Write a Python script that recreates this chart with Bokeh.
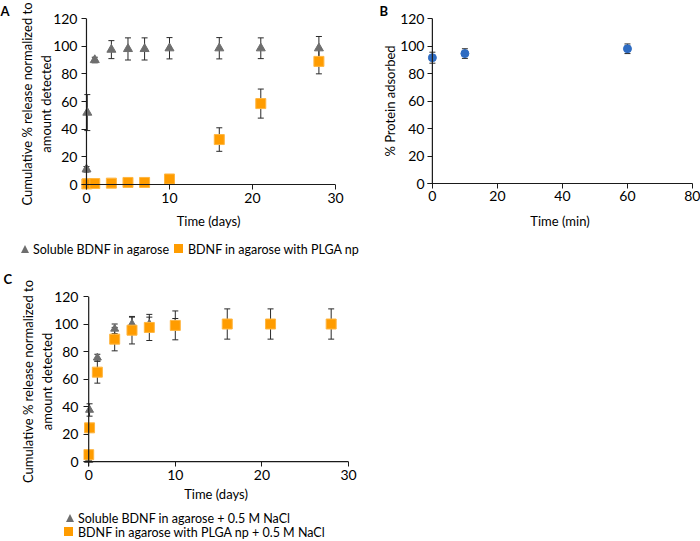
from bokeh.plotting import figure
from bokeh.models import (Whisker, TeeHead, ColumnDataSource, Range1d, FixedTicker, Span, Div)
from bokeh.layouts import column, row
from bokeh.embed import file_html
from bokeh.resources import INLINE

FONT = "Lato"
GREY = "#6e6e6e"
ORANGE = "#ff9c00"
BLUE = "#2f6cc2"
ERR = "#2a2a2a"
AX = "#1a1a1a"

# ---------------- data ----------------
# Panel A
a_days = [0, 0.1, 1, 3, 5, 7, 10, 16, 21, 28]
a_sol = [11, 52, 90, 97.5, 98, 98, 98.5, 98.5, 98.5, 98.5]
a_sol_err = [2, 13, 2, 6.5, 8, 8, 7.7, 7.7, 7.5, 8.5]
a_plga = [0.3, 0.5, 0.7, 1, 1.5, 1.5, 4, 32.5, 58.5, 89]
a_plga_err = [0.5, 0.5, 0.5, 0.5, 1, 1, 1.5, 8.5, 10.5, 9]

# Panel B
b_min = [0, 10, 60]
b_ads = [91.5, 94.5, 98]
b_ads_err = [4, 3.5, 3.5]

# Panel C
c_days = [0, 0.1, 1, 3, 5, 7, 10, 16, 21, 28]
c_sol = [1, 37.5, 75.5, 96.5, 100, 100, 100, 100, 100, 100]
c_sol_err = [1, 4.5, 2.5, 3.5, 5, 5, 4, 3, 3, 3]
c_plga = [5, 24.5, 65, 89, 95.5, 97.5, 99, 100, 100, 100]
c_plga_err = [1, 3, 8, 8.5, 10, 9.5, 10.5, 11, 11, 11]

y_ticks = [0, 20, 40, 60, 80, 100, 120]
day_ticks = [0, 10, 20, 30]
min_ticks = [0, 20, 40, 60, 80]

legend_a = ["Soluble BDNF in agarose", "BDNF in agarose with PLGA np"]
legend_c = ["Soluble BDNF in agarose + 0.5 M NaCl", "BDNF in agarose with PLGA np + 0.5 M NaCl"]


def style(p):
    p.outline_line_color = None
    p.xgrid.visible = False
    p.ygrid.visible = False
    p.background_fill_color = "white"
    p.border_fill_color = "white"
    for ax in p.axis:
        ax.axis_line_color = AX
        ax.axis_line_width = 1.2
        ax.major_tick_line_color = AX
        ax.major_tick_line_width = 1
        ax.major_tick_in = 0
        ax.major_tick_out = 5
        ax.minor_tick_line_color = None
        ax.major_label_text_font = FONT
        ax.major_label_text_font_size = "14px"
        ax.major_label_text_color = "black"
        ax.axis_label_text_font = FONT
        ax.axis_label_text_font_size = "13px"
        ax.axis_label_text_font_style = "normal"
        ax.axis_label_text_color = "black"


def letter(p, text, offset, standoff):
    p.title.text = text
    p.title.align = "left"
    p.title.offset = offset
    p.title.standoff = standoff
    p.title.text_font = FONT
    p.title.text_font_style = "bold"
    p.title.text_font_size = "13px"
    p.title.text_color = "black"


def inner_axis(ax):
    # axis drawn at the frame edge, 5 px outside the zero line: ticks point inward
    ax.axis_line_color = None
    ax.major_tick_in = 5
    ax.major_tick_out = 0


def zero_line(p, dim):
    p.add_layout(Span(location=0, dimension=dim, line_color=AX, line_width=1.2))


def whisk(p, xs, ys, errs):
    src = ColumnDataSource(dict(
        x=xs,
        lower=[y - e for y, e in zip(ys, errs)],
        upper=[y + e for y, e in zip(ys, errs)],
    ))
    w = Whisker(source=src, base="x", lower="lower", upper="upper",
                line_color=ERR, line_width=1,
                upper_head=TeeHead(size=6, line_color=ERR, line_width=1),
                lower_head=TeeHead(size=6, line_color=ERR, line_width=1))
    p.add_layout(w)


def tri_svg(left, top, color):
    return (f'<svg style="position:absolute;left:{left}px;top:{top}px" width="8" height="8">'
            f'<polygon points="4,0 8,8 0,8" fill="{color}"/></svg>')


def sq_html(left, top, color):
    return (f'<span style="position:absolute;left:{left}px;top:{top}px;width:9px;height:9px;'
            f'background:{color}"></span>')


def txt_html(left, center, label):
    return (f'<span style="position:absolute;left:{left}px;top:{center - 5.5}px;line-height:11px;'
            f'white-space:nowrap;font-family:{FONT};font-size:12.5px;color:black">{label}</span>')


def legend_div(width, height, parts):
    html = (f'<div style="position:relative;width:{width}px;height:{height}px;overflow:visible">'
            + "".join(parts) + "</div>")
    return Div(text=html, width=width, height=height, margin=0)


# ---------------- Panel A ----------------
pA = figure(width=360, height=240, x_range=Range1d(-0.6, 30), y_range=Range1d(-3.6, 120),
            output_backend="svg", toolbar_location=None,
            min_border_left=81, min_border_right=25, min_border_top=17, min_border_bottom=51)
style(pA)
pA.xaxis.ticker = FixedTicker(ticks=day_ticks)
pA.yaxis.ticker = FixedTicker(ticks=y_ticks)
inner_axis(pA.xaxis[0])
inner_axis(pA.yaxis[0])
pA.yaxis.major_label_standoff = 4
pA.xaxis.major_label_standoff = 3
pA.yaxis.axis_label_standoff = -4
pA.xaxis.axis_label_standoff = 7
pA.xaxis.axis_label = "Time (days)"
pA.yaxis.axis_label = "Cumulative % release normalized to\namount detected"
zero_line(pA, "height")
zero_line(pA, "width")
whisk(pA, a_days, a_sol, a_sol_err)
whisk(pA, a_days, a_plga, a_plga_err)
pA.scatter(a_days, a_sol, marker="triangle", size=9, fill_color=GREY, line_color=GREY)
pA.scatter(a_days, a_plga, marker="square", size=10, fill_color=ORANGE, line_color="#ffb640")
letter(pA, "A", -81, 0)

legA = legend_div(360, 18, [tri_svg(21, 5, GREY), txt_html(33, 9, legend_a[0]),
                            sq_html(174, 4, ORANGE), txt_html(188, 9, legend_a[1])])

# ---------------- Panel B ----------------
pB = figure(width=340, height=258, x_range=Range1d(-1.5, 80), y_range=Range1d(0, 120),
            output_backend="svg", toolbar_location=None,
            min_border_left=67, min_border_right=8, min_border_top=16, min_border_bottom=75)
style(pB)
pB.xaxis.ticker = FixedTicker(ticks=min_ticks)
pB.yaxis.ticker = FixedTicker(ticks=y_ticks)
inner_axis(pB.yaxis[0])
pB.yaxis.major_label_standoff = 3
pB.xaxis.major_label_standoff = 2
pB.yaxis.axis_label_standoff = -1
pB.xaxis.axis_label_standoff = 9
pB.xaxis.axis_label = "Time (min)"
pB.yaxis.axis_label = "% Protein adsorbed"
zero_line(pB, "height")
whisk(pB, b_min, b_ads, b_ads_err)
pB.scatter(b_min, b_ads, marker="circle", size=8, fill_color=BLUE, line_color=BLUE)
letter(pB, "B", -48, 0)

# ---------------- Panel C ----------------
pC = figure(width=360, height=250, x_range=Range1d(-0.6, 30), y_range=Range1d(-3.6, 120),
            output_backend="svg", toolbar_location=None,
            min_border_left=83, min_border_right=12, min_border_top=38, min_border_bottom=42)
style(pC)
pC.xaxis.ticker = FixedTicker(ticks=day_ticks)
pC.yaxis.ticker = FixedTicker(ticks=y_ticks)
inner_axis(pC.xaxis[0])
inner_axis(pC.yaxis[0])
pC.yaxis.major_label_standoff = 5
pC.xaxis.major_label_standoff = 3
pC.yaxis.axis_label_standoff = -4
pC.xaxis.axis_label_standoff = 3
pC.xaxis.axis_label = "Time (days)"
pC.yaxis.axis_label = "Cumulative % release normalized to\namount detected"
zero_line(pC, "height")
zero_line(pC, "width")
whisk(pC, c_days, c_sol, c_sol_err)
whisk(pC, c_days, c_plga, c_plga_err)
pC.scatter(c_days, c_sol, marker="triangle", size=8, fill_color=GREY, line_color=GREY)
pC.scatter(c_days, c_plga, marker="square", size=10, fill_color=ORANGE, line_color="#ffb640")
letter(pC, "C", -80, 20)

legC = legend_div(360, 33, [tri_svg(66, 6, GREY), txt_html(78, 10, legend_c[0]),
                            sq_html(64, 19, ORANGE), txt_html(78, 24, legend_c[1])])

layout = column(row(column(pA, legA), pB), column(pC, legC))

with open("out.html", "w") as f:
    f.write(file_html(layout, INLINE))
